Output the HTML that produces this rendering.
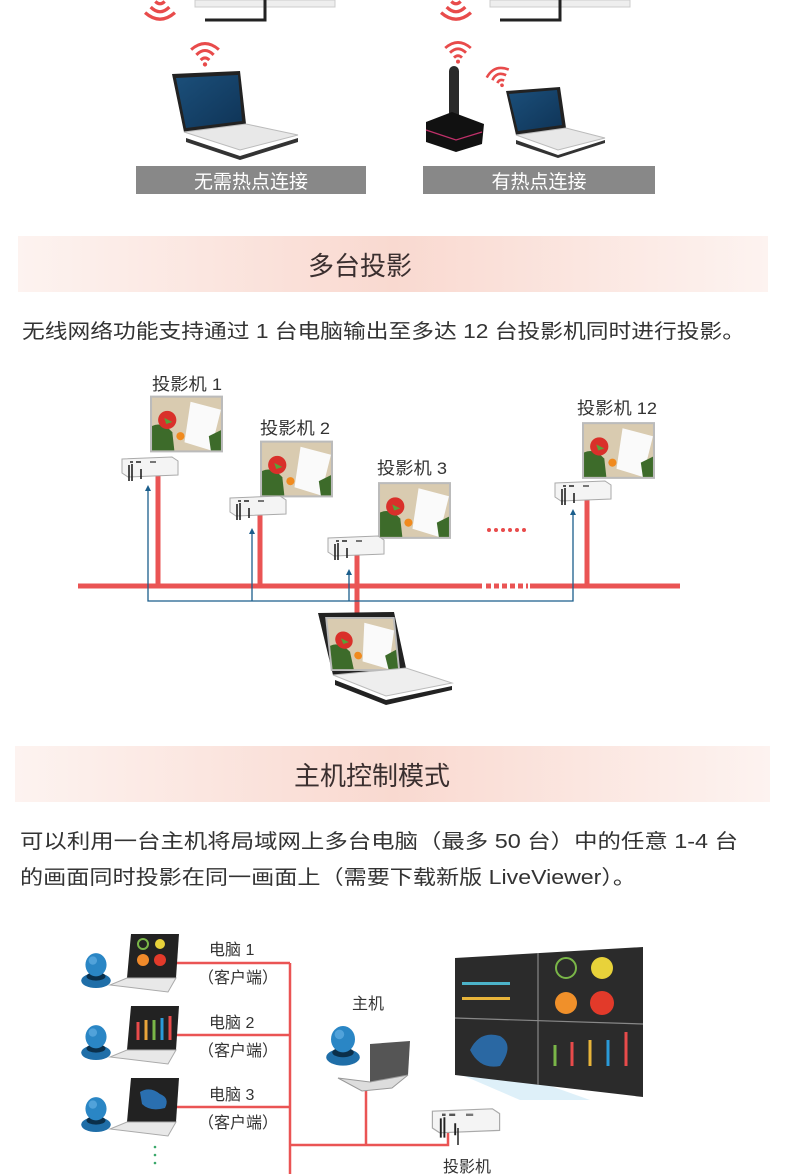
<!DOCTYPE html>
<html><head><meta charset="utf-8"><style>
html,body{margin:0;padding:0;background:#fff;width:790px;height:1174px;overflow:hidden}
svg{display:block}
text{font-family:"Liberation Sans","Noto Sans CJK SC",sans-serif;fill:#333}
</style></head><body>
<svg width="790" height="1174" viewBox="0 0 790 1174" xmlns="http://www.w3.org/2000/svg">
<defs>
<linearGradient id="hg" x1="0" x2="1" y1="0" y2="0">
<stop offset="0" stop-color="#fdf3f0"/><stop offset="0.5" stop-color="#f9d9d0"/><stop offset="1" stop-color="#fdf3f0"/>
</linearGradient>
<linearGradient id="scr" x1="0" x2="1" y1="0" y2="1">
<stop offset="0" stop-color="#1b4f7a"/><stop offset="1" stop-color="#0f3457"/>
</linearGradient>
<symbol id="pic" viewBox="0 0 72 56">
<rect x="0" y="0" width="72" height="56" fill="#bbb"/>
<rect x="2" y="2" width="68" height="52" fill="#d9cbb0"/>
<path d="M2 30 Q12 25 22 36 L24 54 L2 54Z" fill="#3d6b2a"/>
<circle cx="17" cy="24" r="9" fill="#d9302a"/>
<path d="M14 22 L22 26 L16 28Z" fill="#5aa23a"/>
<path d="M40 6 L70 14 L60 54 L34 46Z" fill="#fafafa"/>
<circle cx="30" cy="40" r="4" fill="#f08a1e"/>
<path d="M58 40 L70 34 L70 54 L60 54Z" fill="#3d6b2a"/>
</symbol>
<symbol id="proj" viewBox="0 0 60 26">
<path d="M2 4 L52 2 L58 6 L58 20 L8 22 L2 18Z" fill="#f4f4f4" stroke="#aaa" stroke-width="1"/>
<rect x="10" y="6" width="3" height="2" fill="#555"/><rect x="16" y="6" width="5" height="2" fill="#555"/><rect x="30" y="6" width="6" height="2" fill="#777"/>
<path d="M9 10 L9 26 M12 9 L12 26 M21 14 L21 24" stroke="#222" stroke-width="1.6" fill="none"/>
</symbol>
<symbol id="person" viewBox="0 0 30 36">
<ellipse cx="15" cy="29" rx="14" ry="7" fill="#1f6ea8"/>
<ellipse cx="15" cy="25" rx="9" ry="4" fill="#0b2f4a"/>
<ellipse cx="15" cy="14" rx="10" ry="11" fill="#2a86c5"/>
<ellipse cx="12" cy="10" rx="4" ry="4" fill="#6db6e8" opacity=".6"/>
</symbol>
<symbol id="wifi" viewBox="0 0 40 30">
<path d="M4 10 Q20 -4 36 10" stroke="#e84b4b" stroke-width="3.5" fill="none"/>
<path d="M10 16 Q20 6 30 16" stroke="#e84b4b" stroke-width="3.5" fill="none"/>
<path d="M15 22 Q20 17 25 22" stroke="#e84b4b" stroke-width="3.5" fill="none"/>
<circle cx="20" cy="27" r="2.5" fill="#e84b4b"/>
</symbol>
<symbol id="wifiUp" viewBox="0 0 40 30">
<path d="M4 20 Q20 34 36 20" stroke="#e84b4b" stroke-width="3.5" fill="none"/>
<path d="M10 14 Q20 24 30 14" stroke="#e84b4b" stroke-width="3.5" fill="none"/>
<path d="M15 8 Q20 13 25 8" stroke="#e84b4b" stroke-width="3.5" fill="none"/>
<circle cx="20" cy="3" r="2.5" fill="#e84b4b"/>
</symbol>
</defs>

<!-- top section -->
<use href="#wifiUp" x="140" y="-6" width="40" height="28"/>
<use href="#wifiUp" x="436" y="-6" width="40" height="28"/>
<rect x="195" y="0" width="140" height="7" fill="#eee" stroke="#ccc"/>
<path d="M205 20 L265 20 L265 0" stroke="#222" stroke-width="3" fill="none"/>
<rect x="490" y="0" width="140" height="7" fill="#eee" stroke="#ccc"/>
<path d="M500 20 L560 20 L560 0" stroke="#222" stroke-width="3" fill="none"/>

<use href="#wifi" x="186" y="41" width="38" height="26"/>
<!-- laptop 1 -->
<path d="M172 74 L240 71 L246 124 L184 132Z" fill="#222"/>
<path d="M176 78 L238 75 L242 121 L186 128Z" fill="url(#scr)"/>
<path d="M184 132 L246 124 L298 135 L240 150 Z" fill="#e8e8e8" stroke="#bbb"/>
<path d="M186 138 L240 156 L298 138 L298 142 L240 160 L186 142Z" fill="#333"/>

<use href="#wifi" x="440" y="40" width="36" height="24"/>
<rect x="449" y="66" width="10" height="66" rx="5" fill="#2a2a2a"/>
<path d="M426 122 L452 112 L484 124 L482 144 L456 152 L426 142Z" fill="#111"/>
<path d="M426 130 L456 140 L482 132" stroke="#c0306a" stroke-width="1.2" fill="none"/>
<use href="#wifi" x="484" y="66" width="30" height="22" transform="rotate(-20 499 77)"/>
<path d="M506 91 L560 87 L566 128 L516 135Z" fill="#222"/>
<path d="M509 94 L557 90 L562 125 L518 131Z" fill="url(#scr)"/>
<path d="M516 135 L566 128 L605 138 L558 150Z" fill="#e8e8e8" stroke="#bbb"/>
<path d="M516 140 L558 155 L605 140 L605 143 L558 158 L516 144Z" fill="#333"/>

<rect x="136" y="166" width="230" height="28" fill="#888"/>
<text x="251" y="188" font-size="19" text-anchor="middle" style="fill:#fff">无需热点连接</text>
<rect x="423" y="166" width="232" height="28" fill="#888"/>
<text x="539" y="188" font-size="19" text-anchor="middle" style="fill:#fff">有热点连接</text>

<!-- header 1 -->
<rect x="18" y="236" width="750" height="56" fill="url(#hg)"/>
<text x="360" y="275" font-size="26" text-anchor="middle" style="fill:#3a2f2f">多台投影</text>
<text x="22" y="338" font-size="20" textLength="723" lengthAdjust="spacingAndGlyphs">无线网络功能支持通过 1 台电脑输出至多达 12 台投影机同时进行投影。</text>

<!-- multi-projection -->
<text x="152" y="390" font-size="17" textLength="70" lengthAdjust="spacingAndGlyphs">投影机 1</text>
<use href="#pic" x="150" y="395" width="73" height="58"/>
<text x="260" y="434" font-size="17" textLength="70" lengthAdjust="spacingAndGlyphs">投影机 2</text>
<use href="#pic" x="260" y="440" width="73" height="58"/>
<text x="377" y="474" font-size="17" textLength="70" lengthAdjust="spacingAndGlyphs">投影机 3</text>
<use href="#pic" x="378" y="481" width="73" height="59"/>
<text x="577" y="414" font-size="17" textLength="80" lengthAdjust="spacingAndGlyphs">投影机 12</text>
<use href="#pic" x="582" y="422" width="73" height="57"/>
<g fill="#e84b4b"><circle cx="489" cy="530" r="2"/><circle cx="496" cy="530" r="2"/><circle cx="503" cy="530" r="2"/><circle cx="510" cy="530" r="2"/><circle cx="517" cy="530" r="2"/><circle cx="524" cy="530" r="2"/></g>

<g stroke="#ea5454" stroke-width="5" fill="none">
<path d="M78 586 L482 586"/><path d="M530 586 L680 586"/>
<path d="M486 586 L528 586" stroke-dasharray="5 3"/>
<path d="M158 475 L158 586"/><path d="M260 515 L260 586"/><path d="M357 555 L357 615"/><path d="M587 500 L587 586"/>
</g>
<g stroke="#1b5e8c" stroke-width="1.3" fill="none">
<path d="M148 488 L148 601 L573 601 L573 512"/>
<path d="M252 531 L252 601"/><path d="M349 572 L349 601"/>
</g>
<g fill="#1b5e8c">
<path d="M148 485 L145 491 L151 491Z"/><path d="M252 528 L249 534 L255 534Z"/><path d="M349 569 L346 575 L352 575Z"/><path d="M573 509 L570 515 L576 515Z"/>
</g>
<use href="#proj" x="120" y="455" width="60" height="26"/>
<use href="#proj" x="228" y="494" width="60" height="26"/>
<use href="#proj" x="326" y="534" width="60" height="26"/>
<use href="#proj" x="553" y="479" width="60" height="26"/>

<!-- laptop center -->
<path d="M318 613 L394 612 L406 668 L333 675Z" fill="#222"/>
<use href="#pic" x="322" y="617" width="78" height="54" transform="skewX(6) translate(-66 0)"/>
<path d="M333 675 L406 668 L452 683 L386 696Z" fill="#eee" stroke="#bbb"/>
<path d="M335 680 L386 700 L452 686 L452 690 L386 705 L335 685Z" fill="#222"/>

<!-- header 2 -->
<rect x="15" y="746" width="755" height="56" fill="url(#hg)"/>
<text x="372" y="785" font-size="26" text-anchor="middle" style="fill:#3a2f2f">主机控制模式</text>
<text x="20" y="848" font-size="20" textLength="718" lengthAdjust="spacingAndGlyphs">可以利用一台主机将局域网上多台电脑（最多 50 台）中的任意 1-4 台</text>
<text x="20" y="884" font-size="20" textLength="616" lengthAdjust="spacingAndGlyphs">的画面同时投影在同一画面上（需要下载新版 LiveViewer）。</text>

<!-- bottom diagram -->
<g stroke="#ea5454" stroke-width="2.5" fill="none">
<path d="M176 963 L290 963 M176 1035 L290 1035 M176 1107 L290 1107"/>
<path d="M290 963 L290 1174"/>
<path d="M290 1145 L448 1145 L448 1120"/>
<path d="M366 1090 L366 1145"/>
</g>
<!-- client laptops -->
<g>
<path d="M131 934 L179 934 L176 978 L127 978Z" fill="#222"/>
<path d="M127 978 L176 978 L168 992 L110 985Z" fill="#e8e8e8" stroke="#aaa"/>
<circle cx="143" cy="944" r="5" fill="none" stroke="#7ab648" stroke-width="2"/><circle cx="160" cy="944" r="5" fill="#e8d23a"/><circle cx="143" cy="960" r="6" fill="#f08a2a"/><circle cx="160" cy="960" r="6" fill="#e23a2a"/>
<path d="M131 1006 L179 1006 L176 1050 L127 1050Z" fill="#222"/>
<path d="M127 1050 L176 1050 L168 1064 L110 1057Z" fill="#e8e8e8" stroke="#aaa"/>
<g stroke-width="3"><path d="M138 1040 L138 1022" stroke="#e84b4b"/><path d="M146 1040 L146 1020" stroke="#e8a43a"/><path d="M154 1040 L154 1020" stroke="#7ab648"/><path d="M162 1040 L162 1018" stroke="#2a9ad8"/><path d="M170 1040 L170 1016" stroke="#e84b4b"/></g>
<path d="M131 1078 L179 1078 L176 1122 L127 1122Z" fill="#222"/>
<path d="M127 1122 L176 1122 L168 1136 L110 1129Z" fill="#e8e8e8" stroke="#aaa"/>
<path d="M140 1092 Q150 1086 160 1094 Q170 1098 165 1108 Q150 1112 142 1104Z" fill="#2a6fb0"/>
</g>
<use href="#person" x="80" y="950" width="32" height="38"/>
<use href="#person" x="80" y="1022" width="32" height="38"/>
<use href="#person" x="80" y="1094" width="32" height="38"/>
<g fill="#3aa86a"><circle cx="155" cy="1147" r="1.3"/><circle cx="155" cy="1155" r="1.3"/><circle cx="155" cy="1163" r="1.3"/></g>

<text x="209" y="955" font-size="16">电脑 1</text>
<text x="198" y="983" font-size="16">（客户端）</text>
<text x="209" y="1028" font-size="16">电脑 2</text>
<text x="198" y="1056" font-size="16">（客户端）</text>
<text x="209" y="1100" font-size="16">电脑 3</text>
<text x="198" y="1128" font-size="16">（客户端）</text>
<text x="352" y="1009" font-size="16">主机</text>
<text x="443" y="1172" font-size="16">投影机</text>

<!-- host -->
<use href="#person" x="325" y="1022" width="36" height="44"/>
<path d="M370 1044 L410 1041 L408 1075 L370 1082Z" fill="#555"/>
<path d="M338 1078 L370 1082 L408 1075 L392 1088 L362 1091Z" fill="#ddd" stroke="#999"/>

<!-- video wall -->
<path d="M455 1072 L520 1100 L590 1100 L478 1060Z" fill="#d6ecf7" opacity=".8"/>
<path d="M455 958 L643 947 L643 1097 L455 1075Z" fill="#2b2b2b"/>
<path d="M538 953 L538 1085 M455 1018 L643 1024" stroke="#888" stroke-width="1.2"/>
<rect x="462" y="982" width="48" height="3" fill="#4cb3c9"/><rect x="462" y="997" width="48" height="3" fill="#e8b43a"/>
<circle cx="566" cy="968" r="10" fill="none" stroke="#7ab648" stroke-width="2"/>
<circle cx="602" cy="968" r="11" fill="#e8d23a"/>
<circle cx="566" cy="1003" r="11" fill="#f0902a"/>
<circle cx="602" cy="1003" r="12" fill="#e23a2a"/>
<path d="M470 1050 Q480 1030 500 1036 Q515 1045 500 1066 Q480 1070 470 1050Z" fill="#2a6fb0" opacity=".9"/>
<g stroke-width="3"><path d="M555 1066 L555 1045" stroke="#7ab648"/><path d="M572 1066 L572 1042" stroke="#e84b4b"/><path d="M590 1066 L590 1040" stroke="#e8b43a"/><path d="M608 1066 L608 1040" stroke="#2a9ad8"/><path d="M626 1066 L626 1032" stroke="#e84b4b"/></g>
<use href="#proj" x="430" y="1106" width="72" height="32"/>
<path d="M458 1128 L458 1145" stroke="#222" stroke-width="1.5"/>
</svg>
</body></html>
